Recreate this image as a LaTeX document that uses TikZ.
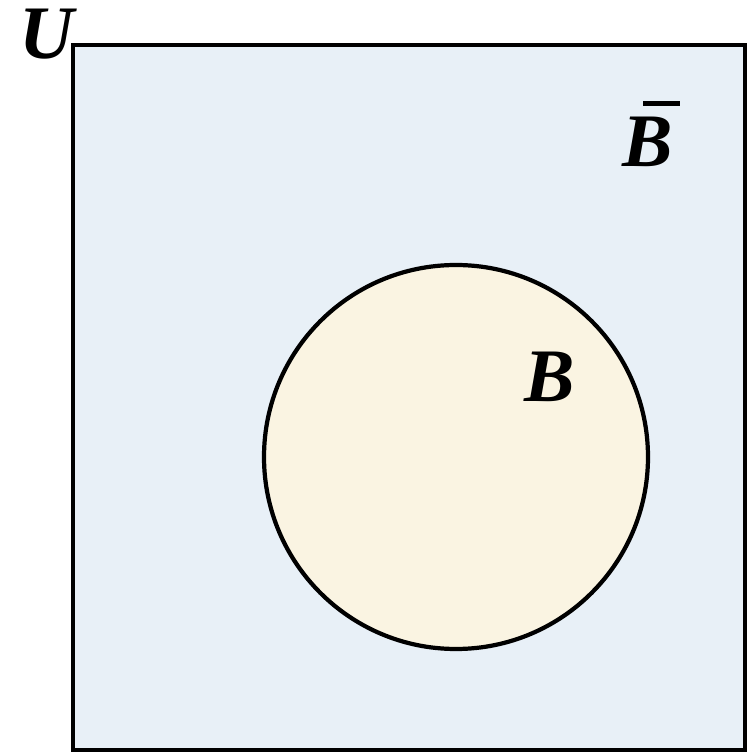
\documentclass[tikz,border=0pt]{standalone}
\usepackage{fontspec}
\setmainfont{Liberation Serif}
\definecolor{univblue}{HTML}{E8F0F7}
\definecolor{setcream}{HTML}{FAF4E2}
\tikzset{setlabel/.style={font=\fontsize{43}{43}\selectfont\bfseries\itshape, inner sep=0pt}}

\begin{document}
\begin{tikzpicture}
    \useasboundingbox (0,0) rectangle (15.06,15.06);
    \draw[line width=2.4pt, fill=univblue] (1.46,0.06) rectangle (14.90,14.16);
    \draw[line width=2.4pt, fill=setcream] (9.12,5.92) circle (3.84);
    \node[setlabel] (U) at (0.94,14.38) {U};
    \node[setlabel] (Bc) at (12.96,12.22)
      {\makebox[0pt][l]{\hspace{0.27em}\smash{\raisebox{0.80em}{\rule{0.49em}{3pt}}}}B};
    \node[setlabel] (B) at (11.00,7.52) {B};
  \end{tikzpicture}
\end{document}
